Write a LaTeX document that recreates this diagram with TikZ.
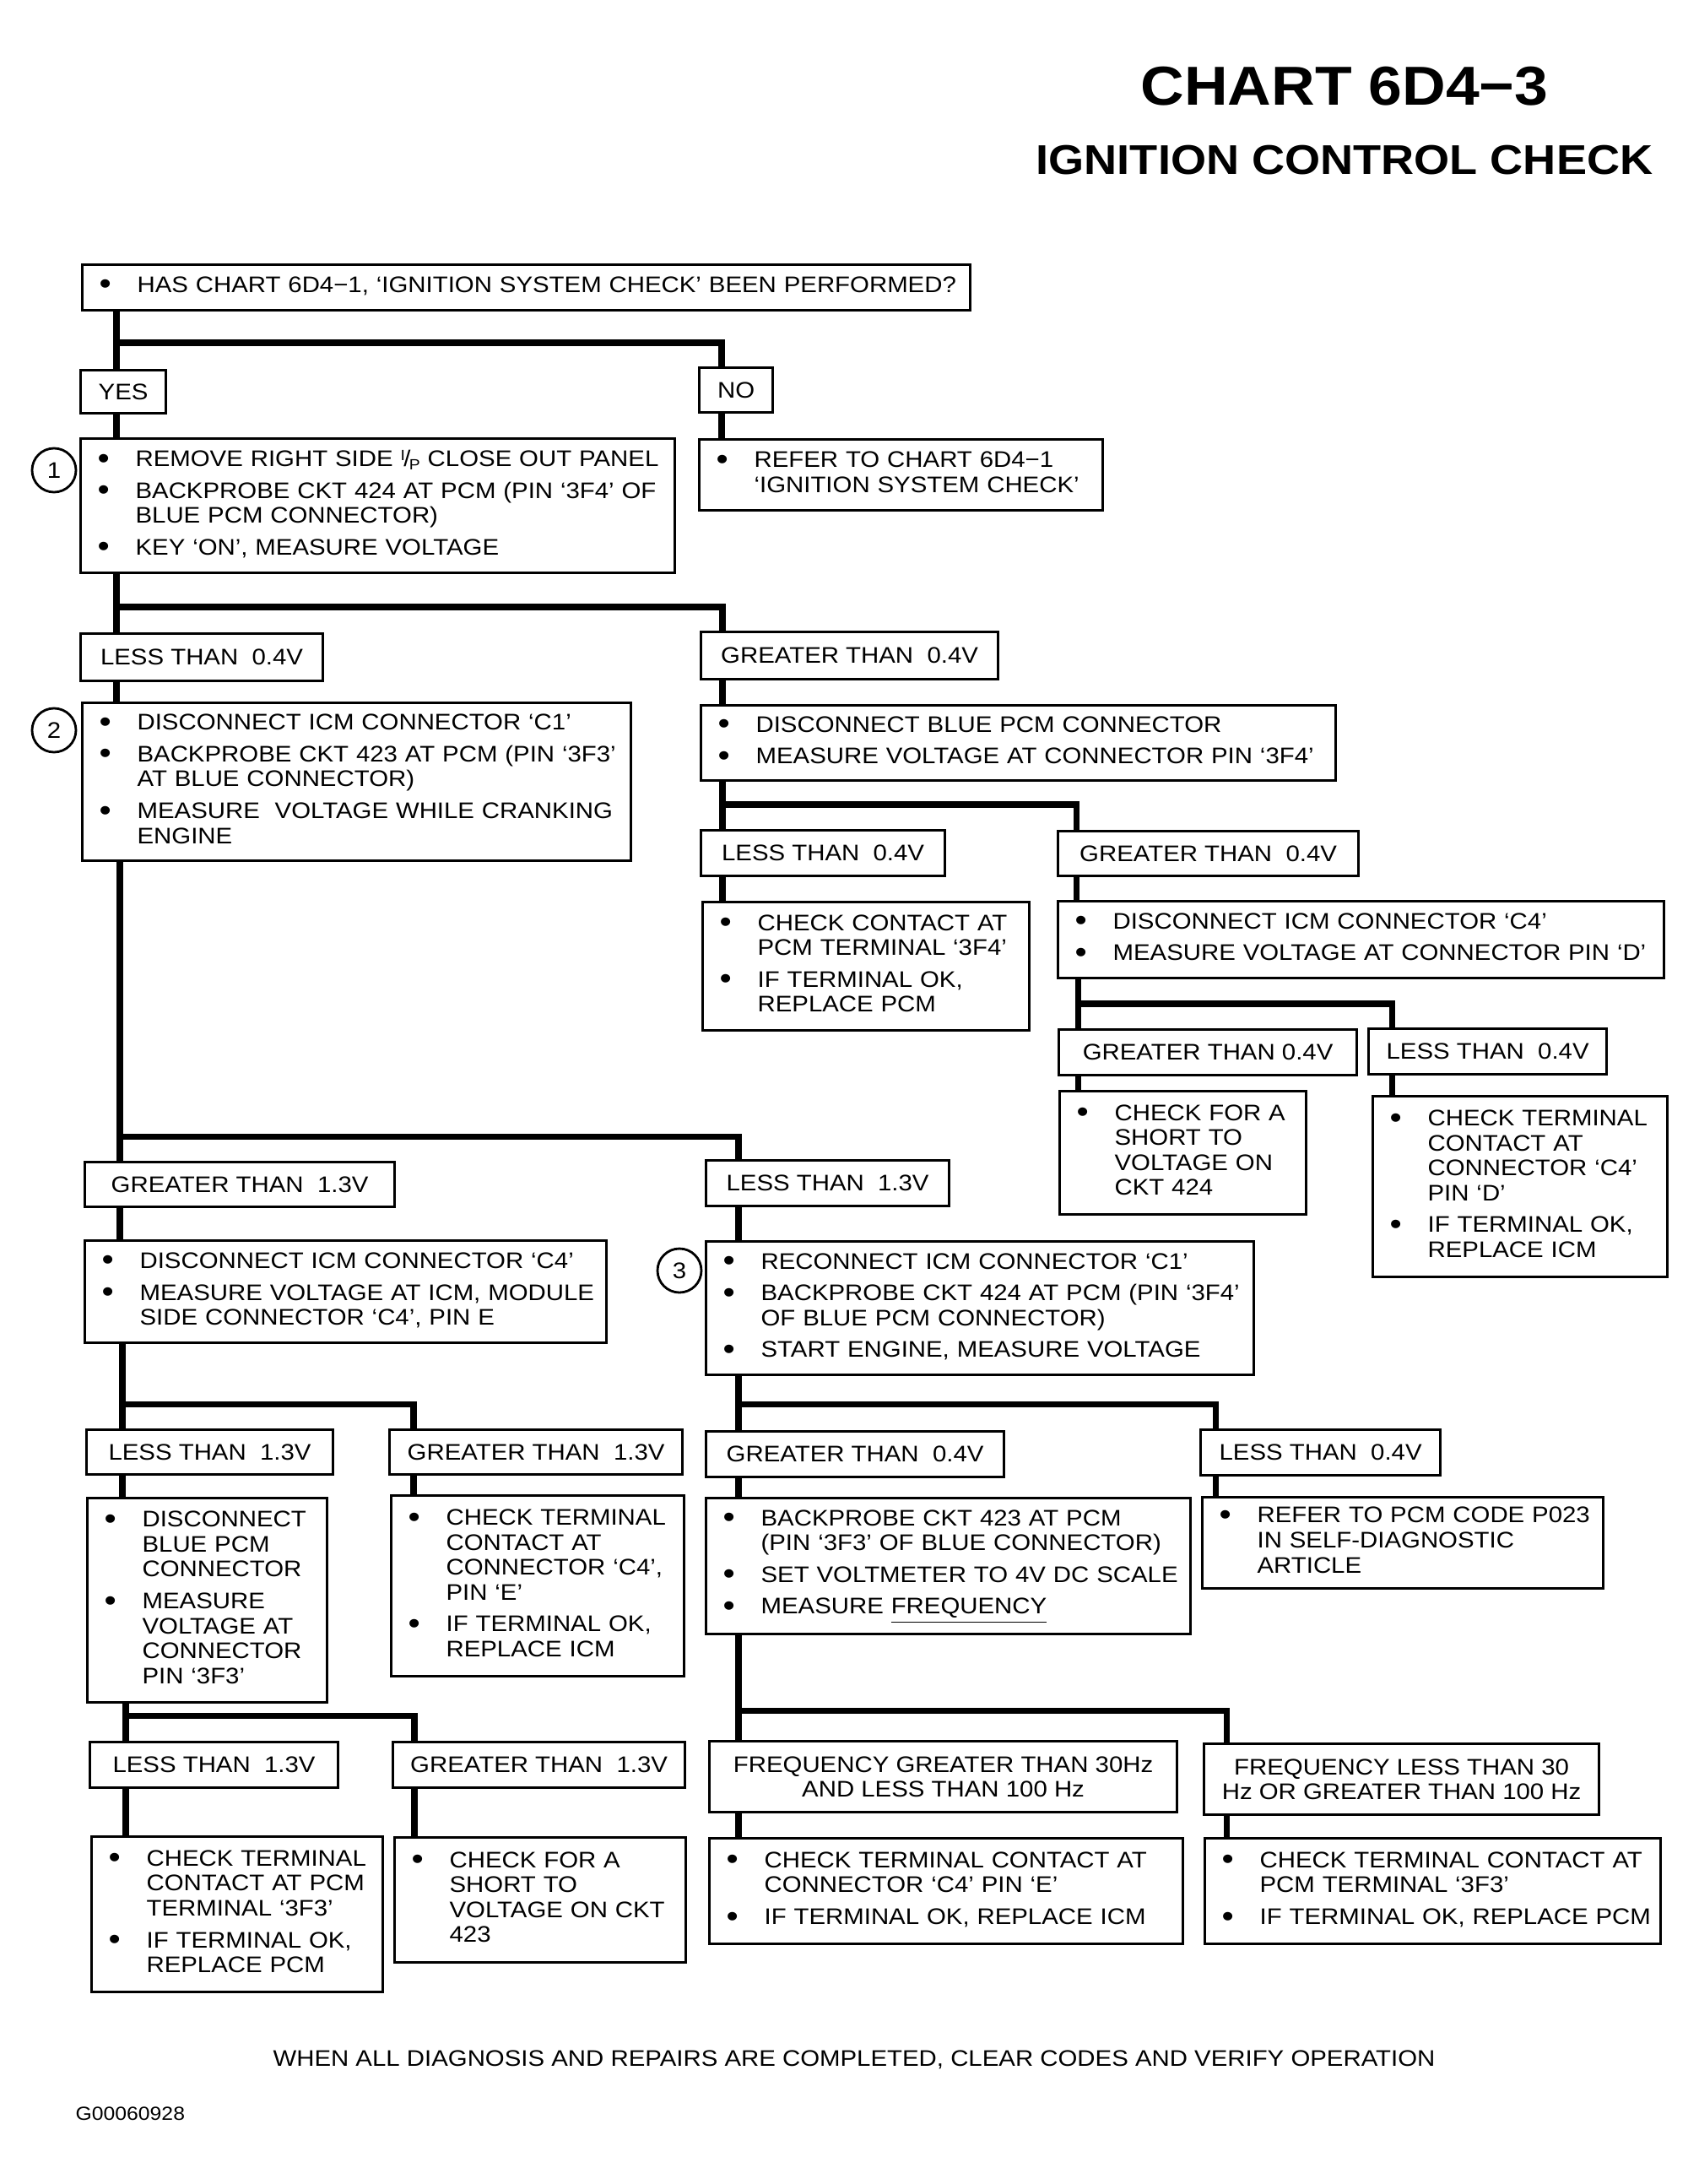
\documentclass[tikz,border=0pt]{standalone}
\usepackage{fontspec}
\setmainfont{Liberation Sans}[FakeStretch=1.1]
\usepackage{tikz}
\usetikzlibrary{positioning,calc}

\newcommand{\bul}{\makebox[.45cm][l]{\kern.0cm\raisebox{-.7pt}{\fontsize{10.5}{10}\selectfont\textbullet}}}
\newcommand{\ip}{\raisebox{2pt}{\fontsize{5}{5}\selectfont I}\kern-.06em/\kern-.06em\raisebox{-1pt}{\fontsize{5}{5}\selectfont P}}
\newcommand{\isep}{2.3pt}

\begin{document}
\begin{tikzpicture}[x=1cm, y=-1cm,
            box/.style={draw, line width=.9pt, anchor=north west, align=left, inner xsep=.2cm, inner ysep=0pt,
                 font=\fontsize{7.6}{8.4}\selectfont},
            lbl/.style={draw, line width=.9pt, anchor=north west, align=center, inner sep=0pt,
                 font=\fontsize{7.6}{8.4}\selectfont},
            wh/.style 2 args={minimum width=#1cm, minimum height=#2cm},
            num/.style={draw, circle, line width=.8pt, minimum size=.52cm, inner sep=0pt,
                 font=\fontsize{7.6}{8.4}\selectfont},
            conn/.style={line width=2pt}
            ]
            \useasboundingbox (0,0) rectangle (20.13,25.87);

            % Title
            \node[anchor=base, font=\fontsize{18.5}{20}\selectfont\bfseries] (title) at (15.93,1.25) {CHART 6D4−3};
            \node[anchor=base, font=\fontsize{14}{16}\selectfont\bfseries] (subtitle) at (15.93,2.07) {IGNITION CONTROL CHECK};

            % Nodes with manual coordinates
            \node[box, wh={10.52}{.54}, text width=10.12cm] (q0) at (0.96,3.12)
                 {\begin{tabular}{@{}l@{}l@{}}\bul & HAS CHART 6D4−1, `IGNITION SYSTEM CHECK' BEEN PERFORMED?\end{tabular}};
            \node[lbl, wh={1.01}{.51}] (yes) at (0.94,4.37) {YES};
            \node[lbl, wh={.87}{.53}] (no) at (8.27,4.34) {NO};
            \node[box, wh={7.04}{1.59}, text width=6.64cm] (s1) at (0.94,5.18)
                 {\begin{tabular}{@{}l@{}l@{}}\bul & REMOVE RIGHT SIDE \ip{} CLOSE OUT PANEL\\[\isep]
                  \bul & BACKPROBE CKT 424 AT PCM (PIN `3F4' OF\\ & BLUE PCM CONNECTOR)\\[\isep]
                  \bul & KEY `ON', MEASURE VOLTAGE\end{tabular}};
            \node[num] (n1) at (0.64,5.57) {1};
            \node[box, wh={4.78}{.84}, text width=4.38cm] (refer) at (8.27,5.19)
                 {\begin{tabular}{@{}l@{}l@{}}\bul & REFER TO CHART 6D4−1\\ & `IGNITION SYSTEM CHECK'\end{tabular}};

            \node[lbl, wh={2.87}{.56}] (lta) at (0.94,7.49) {LESS THAN~ 0.4V};
            \node[lbl, wh={3.52}{.56}] (gta) at (8.29,7.47) {GREATER THAN~ 0.4V};
            \node[box, wh={6.50}{1.87}, text width=6.10cm] (s2) at (0.96,8.31)
                 {\begin{tabular}{@{}l@{}l@{}}\bul & DISCONNECT ICM CONNECTOR `C1'\\[\isep]
                  \bul & BACKPROBE CKT 423 AT PCM (PIN `3F3'\\ & AT BLUE CONNECTOR)\\[\isep]
                  \bul & MEASURE~ VOLTAGE WHILE CRANKING\\ & ENGINE\end{tabular}};
            \node[num] (n2) at (0.64,8.65) {2};
            \node[box, wh={7.52}{.89}, text width=7.12cm] (dblue) at (8.29,8.34)
                 {\begin{tabular}{@{}l@{}l@{}}\bul & DISCONNECT BLUE PCM CONNECTOR\\[\isep]
                  \bul & MEASURE VOLTAGE AT CONNECTOR PIN `3F4'\end{tabular}};

            \node[lbl, wh={2.89}{.54}] (ltb) at (8.29,9.82) {LESS THAN~ 0.4V};
            \node[lbl, wh={3.56}{.53}] (gtb) at (12.52,9.83) {GREATER THAN~ 0.4V};
            \node[box, wh={3.87}{1.52}, text width=3.47cm] (chkf) at (8.31,10.67)
                 {\begin{tabular}{@{}l@{}l@{}}\bul & CHECK CONTACT AT\\ & PCM TERMINAL `3F4'\\[\isep]
                  \bul & IF TERMINAL OK,\\ & REPLACE PCM\end{tabular}};
            \node[box, wh={7.18}{.91}, text width=6.78cm] (icmd) at (12.52,10.66)
                 {\begin{tabular}{@{}l@{}l@{}}\bul & DISCONNECT ICM CONNECTOR `C4'\\[\isep]
                  \bul & MEASURE VOLTAGE AT CONNECTOR PIN `D'\end{tabular}};

            \node[lbl, wh={3.53}{.54}] (gtc) at (12.53,12.18) {GREATER THAN 0.4V};
            \node[lbl, wh={2.82}{.54}] (ltc) at (16.20,12.17) {LESS THAN~ 0.4V};
            \node[box, wh={2.92}{1.46}, text width=2.52cm] (shf) at (12.54,12.91)
                 {\begin{tabular}{@{}l@{}l@{}}\bul & CHECK FOR A\\ & SHORT TO\\ & VOLTAGE ON\\ & CKT 424\end{tabular}};
            \node[box, wh={3.49}{2.14}, text width=3.09cm] (chkd) at (16.25,12.97)
                 {\begin{tabular}{@{}l@{}l@{}}\bul & CHECK TERMINAL\\ & CONTACT AT\\ & CONNECTOR `C4'\\ & PIN `D'\\[\isep]
                  \bul & IF TERMINAL OK,\\ & REPLACE ICM\end{tabular}};

            \node[lbl, wh={3.67}{.53}] (gtd) at (0.99,13.75) {GREATER THAN~ 1.3V};
            \node[lbl, wh={2.88}{.54}] (ltd) at (8.35,13.73) {LESS THAN~ 1.3V};
            \node[box, wh={6.18}{1.21}, text width=5.78cm] (icme) at (0.99,14.68)
                 {\begin{tabular}{@{}l@{}l@{}}\bul & DISCONNECT ICM CONNECTOR `C4'\\[\isep]
                  \bul & MEASURE VOLTAGE AT ICM, MODULE\\ & SIDE CONNECTOR `C4', PIN E\end{tabular}};
            \node[box, wh={6.49}{1.58}, text width=6.09cm] (s3) at (8.35,14.69)
                 {\begin{tabular}{@{}l@{}l@{}}\bul & RECONNECT ICM CONNECTOR `C1'\\[\isep]
                  \bul & BACKPROBE CKT 424 AT PCM (PIN `3F4'\\ & OF BLUE PCM CONNECTOR)\\[\isep]
                  \bul & START ENGINE, MEASURE VOLTAGE\end{tabular}};
            \node[num] (n3) at (8.05,15.05) {3};

            \node[lbl, wh={2.92}{.53}] (lte) at (1.01,16.92) {LESS THAN~ 1.3V};
            \node[lbl, wh={3.47}{.53}] (gte) at (4.60,16.92) {GREATER THAN~ 1.3V};
            \node[box, wh={2.84}{2.42}, text width=2.44cm] (dpcm) at (1.02,17.73)
                 {\begin{tabular}{@{}l@{}l@{}}\bul & DISCONNECT\\ & BLUE PCM\\ & CONNECTOR\\[\isep]
                  \bul & MEASURE\\ & VOLTAGE AT\\ & CONNECTOR\\ & PIN `3F3'\end{tabular}};
            \node[box, wh={3.47}{2.14}, text width=3.07cm] (chke) at (4.62,17.70)
                 {\begin{tabular}{@{}l@{}l@{}}\bul & CHECK TERMINAL\\ & CONTACT AT\\ & CONNECTOR `C4',\\ & PIN `E'\\[\isep]
                  \bul & IF TERMINAL OK,\\ & REPLACE ICM\end{tabular}};
            \node[lbl, wh={3.53}{.54}] (gtf) at (8.35,16.94) {GREATER THAN~ 0.4V};
            \node[lbl, wh={2.84}{.54}] (ltf) at (14.21,16.92) {LESS THAN~ 0.4V};
            \node[box, wh={5.74}{1.61}, text width=5.34cm] (freq) at (8.35,17.73)
                 {\begin{tabular}{@{}l@{}l@{}}\bul & BACKPROBE CKT 423 AT PCM\\ & (PIN `3F3' OF BLUE CONNECTOR)\\[\isep]
                  \bul & SET VOLTMETER TO 4V DC SCALE\\[\isep]
                  \bul & MEASURE \underline{FREQUENCY}\end{tabular}};
            \node[box, wh={4.75}{1.08}, text width=4.35cm] (pcode) at (14.23,17.72)
                 {\begin{tabular}{@{}l@{}l@{}}\bul & REFER TO PCM CODE P023\\ & IN SELF-DIAGNOSTIC\\ & ARTICLE\end{tabular}};

            \node[lbl, wh={2.94}{.54}] (ltg) at (1.05,20.62) {LESS THAN~ 1.3V};
            \node[lbl, wh={3.46}{.54}] (gtg) at (4.64,20.62) {GREATER THAN~ 1.3V};
            \node[box, wh={3.45}{1.84}, text width=3.05cm] (chkt) at (1.07,21.74)
                 {\begin{tabular}{@{}l@{}l@{}}\bul & CHECK TERMINAL\\ & CONTACT AT PCM\\ & TERMINAL `3F3'\\[\isep]
                  \bul & IF TERMINAL OK,\\ & REPLACE PCM\end{tabular}};
            \node[box, wh={3.45}{1.48}, text width=3.05cm] (sht) at (4.66,21.75)
                 {\begin{tabular}{@{}l@{}l@{}}\bul & CHECK FOR A\\ & SHORT TO\\ & VOLTAGE ON CKT\\ & 423\end{tabular}};
            \node[lbl, wh={5.54}{.84}] (fgt) at (8.39,20.61) {FREQUENCY GREATER THAN 30Hz\\AND LESS THAN 100 Hz};
            \node[lbl, wh={4.68}{.84}] (flt) at (14.25,20.64) {FREQUENCY LESS THAN 30\\Hz OR GREATER THAN 100 Hz};
            \node[box, wh={5.61}{1.25}, text width=5.21cm] (chkx) at (8.39,21.76)
                 {\begin{tabular}{@{}l@{}l@{}}\bul & CHECK TERMINAL CONTACT AT\\ & CONNECTOR `C4' PIN `E'\\[\isep]
                  \bul & IF TERMINAL OK, REPLACE ICM\end{tabular}};
            \node[box, wh={5.40}{1.25}, text width=5.00cm] (chky) at (14.26,21.76)
                 {\begin{tabular}{@{}l@{}l@{}}\bul & CHECK TERMINAL CONTACT AT\\ & PCM TERMINAL `3F3'\\[\isep]
                  \bul & IF TERMINAL OK, REPLACE PCM\end{tabular}};

            \node[font=\fontsize{7.6}{8.4}\selectfont] (foot) at (10.12,24.40)
                 {WHEN ALL DIAGNOSIS AND REPAIRS ARE COMPLETED, CLEAR CODES AND VERIFY OPERATION};
            \node[anchor=west, inner sep=0pt, font=\fontsize{6.4}{7}\selectfont] (code) at (0.89,25.04) {G00060928};

            % Junctions
            \coordinate (j1) at (1.38,4.06);  \coordinate (k1) at (8.55,4.06);
            \coordinate (j2) at (1.38,7.19);  \coordinate (k2) at (8.56,7.19);
            \coordinate (j3) at (8.56,9.53);  \coordinate (k3) at (12.75,9.53);
            \coordinate (j4) at (12.77,11.89); \coordinate (k4) at (16.49,11.89);
            \coordinate (j5) at (1.42,13.46); \coordinate (k5) at (8.75,13.46);
            \coordinate (j6) at (1.45,16.63); \coordinate (k6) at (4.90,16.63);
            \coordinate (j7) at (8.75,16.63); \coordinate (k7) at (14.40,16.63);
            \coordinate (j8) at (1.49,20.32); \coordinate (k8) at (4.91,20.32);
            \coordinate (j9) at (8.75,20.26); \coordinate (k9) at (14.53,20.26);

            % Connectors
            \draw[conn] (q0.south -| j1) -- (yes.north -| j1);
            \draw[conn] (j1) -- (k1) -- (no.north -| k1);
            \draw[conn] (yes.south -| j1) -- (s1.north -| j1);
            \draw[conn] (no.south -| k1) -- (refer.north -| k1);

            \draw[conn] (s1.south -| j2) -- (lta.north -| j2);
            \draw[conn] (j2) -- (k2) -- (gta.north -| k2);
            \draw[conn] (lta.south -| j2) -- (s2.north -| j2);
            \draw[conn] (gta.south -| k2) -- (dblue.north -| k2);

            \draw[conn] (dblue.south -| j3) -- (ltb.north -| j3);
            \draw[conn] (j3) -- (k3) -- (gtb.north -| k3);
            \draw[conn] (ltb.south -| j3) -- (chkf.north -| j3);
            \draw[conn] (gtb.south -| k3) -- (icmd.north -| k3);

            \draw[conn] (icmd.south -| j4) -- (gtc.north -| j4);
            \draw[conn] (j4) -- (k4) -- (ltc.north -| k4);
            \draw[conn] (gtc.south -| j4) -- (shf.north -| j4);
            \draw[conn] (ltc.south -| k4) -- (chkd.north -| k4);

            \draw[conn] (s2.south -| j5) -- (gtd.north -| j5);
            \draw[conn] (j5) -- (k5) -- (ltd.north -| k5);
            \draw[conn] (gtd.south -| j5) -- (icme.north -| j5);
            \draw[conn] (ltd.south -| k5) -- (s3.north -| k5);

            \draw[conn] (icme.south -| j6) -- (lte.north -| j6);
            \draw[conn] (j6) -- (k6) -- (gte.north -| k6);
            \draw[conn] (lte.south -| j6) -- (dpcm.north -| j6);
            \draw[conn] (gte.south -| k6) -- (chke.north -| k6);

            \draw[conn] (s3.south -| j7) -- (gtf.north -| j7);
            \draw[conn] (j7) -- (k7) -- (ltf.north -| k7);
            \draw[conn] (gtf.south -| j7) -- (freq.north -| j7);
            \draw[conn] (ltf.south -| k7) -- (pcode.north -| k7);

            \draw[conn] (dpcm.south -| j8) -- (ltg.north -| j8);
            \draw[conn] (j8) -- (k8) -- (gtg.north -| k8);
            \draw[conn] (ltg.south -| j8) -- (chkt.north -| j8);
            \draw[conn] (gtg.south -| k8) -- (sht.north -| k8);

            \draw[conn] (freq.south -| j9) -- (fgt.north -| j9);
            \draw[conn] (j9) -- (k9) -- (flt.north -| k9);
            \draw[conn] (fgt.south -| j9) -- (chkx.north -| j9);
            \draw[conn] (flt.south -| k9) -- (chky.north -| k9);
        \end{tikzpicture}
\end{document}
